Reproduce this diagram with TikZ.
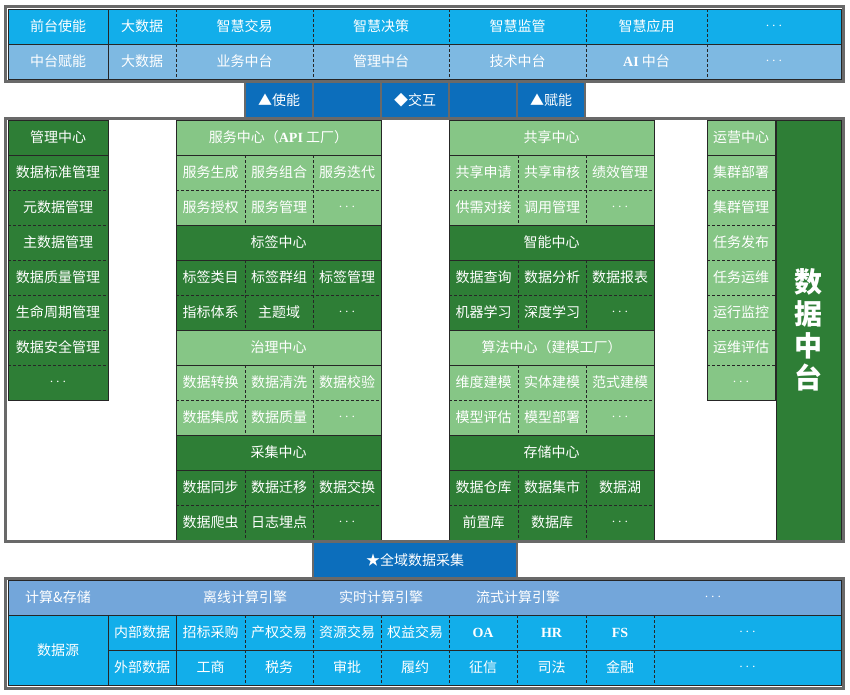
\documentclass[tikz,border=0pt]{standalone}
\usepackage{fontspec}
\setmainfont{Liberation Serif}
\newfontfamily\cjk{Noto Sans CJK SC}
\newfontfamily\lat{Liberation Serif}
\definecolor{cyanA}{RGB}{18,174,234}
\definecolor{blueB}{RGB}{126,185,226}
\definecolor{blueC}{RGB}{12,110,188}
\definecolor{blueD}{RGB}{115,166,218}
\definecolor{gD}{RGB}{46,126,54}
\definecolor{gL}{RGB}{134,198,134}
\definecolor{frameG}{RGB}{105,105,105}
\newcommand\dd{$\cdots$}
\newcommand\ab{\lat\bfseries}
\newcommand\irow[7]{%
  \node[cell, fill=#4, minimum width=69pt, minimum height=35pt] (#1a) at (#2,#3) {#5};
  \node[cell, fill=#4, minimum width=68pt, minimum height=35pt] (#1b) at (#2+69,#3) {#6};
  \node[cell, fill=#4, minimum width=68pt, minimum height=35pt] (#1c) at (#2+137,#3) {#7};}
\newcommand\iblock[2]{%
  \draw[sep] (#1a.north east) -- (#2a.south east);
  \draw[sep] (#1b.north east) -- (#2b.south east);
  \draw[sep] (#1a.south west) -- (#1c.south east);
  \draw[box] (#1a.north west) rectangle (#2c.south east);}
\newcommand\shead[5]{%
  \node[cell, fill=#4, box, minimum width=205pt, minimum height=35pt] (#1) at (#2,#3) {#5};}
\begin{document}
\begin{tikzpicture}[x=1pt,y=-1pt,
  cell/.style={anchor=north west, inner sep=0pt, outer sep=0pt, text=white,
    font=\cjk\fontsize{14}{16}\selectfont, align=center},
  box/.style={draw=black!85, line width=0.8pt},
  sep/.style={draw=black!85, line width=0.7pt, dash pattern=on 3pt off 2pt},
  frame/.style={draw=frameG, line width=3pt},
  lbl/.style={inner sep=0pt, text=white, font=\cjk\fontsize{14}{16}\selectfont}]
\useasboundingbox (0,0) rectangle (850,694);
\fill[white] (0,0) rectangle (850,694);

% ---------- top frame ----------
\foreach \n/\x/\w/\t in {t1/8/100/前台使能, t2/108/68/大数据, t3/176/137/智慧交易,
  t4/313/136/智慧决策, t5/449/137/智慧监管, t6/586/121/智慧应用, t7/707/134/\dd}
  \node[cell, fill=cyanA, minimum width=\w pt, minimum height=35pt] (\n) at (\x,9) {\t};
\foreach \n/\x/\w/\t in {m1/8/100/中台赋能, m2/108/68/大数据, m3/176/137/业务中台,
  m4/313/136/管理中台, m5/449/137/技术中台, m6/586/121/{{\ab AI}~中台}, m7/707/134/\dd}
  \node[cell, fill=blueB, minimum width=\w pt, minimum height=35pt] (\n) at (\x,44) {\t};
\foreach \i in {2,...,6} \draw[sep] (t\i.north east) -- (m\i.south east);
\draw[box] (t1.north east) -- (m1.south east);
\draw[box] (t1.south west) -- (t7.south east);
\draw[box] (t1.north west) rectangle (m7.south east);
\draw[frame] (5.5,6.5) rectangle (843.5,81.5);

% ---------- middle bar ----------
\foreach \n/\x/\t in {b1/245/▲使能, b2/313/{}, b3/381/◆交互, b4/449/{}, b5/517/▲赋能}
  \node[cell, fill=blueC, draw=frameG, line width=1.2pt, minimum width=68pt, minimum height=36pt] (\n) at (\x,82) {\t};

% ---------- left column ----------
\node[cell, fill=gD, box, minimum width=100pt, minimum height=35pt] (lh) at (8,120) {管理中心};
\foreach \i/\t in {1/数据标准管理, 2/元数据管理, 3/主数据管理, 4/数据质量管理, 5/生命周期管理, 6/数据安全管理, 7/\dd}
  \node[cell, fill=gD, minimum width=100pt, minimum height=35pt] (l\i) at (8,120+35*\i) {\t};
\foreach \i in {1,...,6} \draw[sep] (l\i.south west) -- (l\i.south east);
\draw[box] (l1.north west) rectangle (l7.south east);

% ---------- right column ----------
\node[cell, fill=gL, box, minimum width=68pt, minimum height=35pt] (rh) at (707,120) {运营中心};
\foreach \i/\t in {1/集群部署, 2/集群管理, 3/任务发布, 4/任务运维, 5/运行监控, 6/运维评估, 7/\dd}
  \node[cell, fill=gL, minimum width=68pt, minimum height=35pt] (o\i) at (707,120+35*\i) {\t};
\foreach \i in {1,...,6} \draw[sep] (o\i.south west) -- (o\i.south east);
\draw[box] (o1.north west) rectangle (o7.south east);

\node[cell, fill=gD, box, minimum width=65pt, minimum height=420pt,
  font=\cjk\bfseries\fontsize{28}{32}\selectfont] (big) at (776,120) {数\\据\\中\\台};

% ---------- middle column A ----------
\shead{ah1}{176}{120}{gL}{服务中心（{\ab API}~工厂）}
\irow{a11}{176}{155}{gL}{服务生成}{服务组合}{服务迭代}
\irow{a12}{176}{190}{gL}{服务授权}{服务管理}{\dd}
\iblock{a11}{a12}
\shead{ah2}{176}{225}{gD}{标签中心}
\irow{a21}{176}{260}{gD}{标签类目}{标签群组}{标签管理}
\irow{a22}{176}{295}{gD}{指标体系}{主题域}{\dd}
\iblock{a21}{a22}
\shead{ah3}{176}{330}{gL}{治理中心}
\irow{a31}{176}{365}{gL}{数据转换}{数据清洗}{数据校验}
\irow{a32}{176}{400}{gL}{数据集成}{数据质量}{\dd}
\iblock{a31}{a32}
\shead{ah4}{176}{435}{gD}{采集中心}
\irow{a41}{176}{470}{gD}{数据同步}{数据迁移}{数据交换}
\irow{a42}{176}{505}{gD}{数据爬虫}{日志埋点}{\dd}
\iblock{a41}{a42}

% ---------- middle column B ----------
\shead{bh1}{449}{120}{gL}{共享中心}
\irow{b11}{449}{155}{gL}{共享申请}{共享审核}{绩效管理}
\irow{b12}{449}{190}{gL}{供需对接}{调用管理}{\dd}
\iblock{b11}{b12}
\shead{bh2}{449}{225}{gD}{智能中心}
\irow{b21}{449}{260}{gD}{数据查询}{数据分析}{数据报表}
\irow{b22}{449}{295}{gD}{机器学习}{深度学习}{\dd}
\iblock{b21}{b22}
\shead{bh3}{449}{330}{gL}{算法中心（建模工厂）}
\irow{b31}{449}{365}{gL}{维度建模}{实体建模}{范式建模}
\irow{b32}{449}{400}{gL}{模型评估}{模型部署}{\dd}
\iblock{b31}{b32}
\shead{bh4}{449}{435}{gD}{存储中心}
\irow{b41}{449}{470}{gD}{数据仓库}{数据集市}{数据湖}
\irow{b42}{449}{505}{gD}{前置库}{数据库}{\dd}
\iblock{b41}{b42}

\draw[frame] (5.5,118.5) rectangle (843.5,541.5);

% ---------- bottom bar ----------
\node[cell, fill=blueC, draw=frameG, line width=1.2pt, minimum width=204pt, minimum height=36pt] (cj) at (313,542) {★全域数据采集};

% ---------- bottom frame ----------
\node[cell, fill=blueD, minimum width=833pt, minimum height=35pt] (cs) at (8,580) {};
\node[lbl] (cs1) at (58,597.5) {计算\&存储};
\node[lbl] (cs2) at (245,597.5) {离线计算引擎};
\node[lbl] (cs3) at (381,597.5) {实时计算引擎};
\node[lbl] (cs4) at (518,597.5) {流式计算引擎};
\node[lbl] (cs5) at (713,597.5) {\dd};
\node[cell, fill=cyanA, minimum width=100pt, minimum height=70pt] (ds) at (8,615) {数据源};
\node[cell, fill=cyanA, minimum width=68pt, minimum height=35pt] (nb) at (108,615) {内部数据};
\node[cell, fill=cyanA, minimum width=68pt, minimum height=35pt] (wb) at (108,650) {外部数据};
\foreach \i/\x/\w/\a/\b in {1/176/69/招标采购/工商, 2/245/68/产权交易/税务, 3/313/68/资源交易/审批,
  4/381/68/权益交易/履约, 5/449/68/{{\ab OA}}/征信, 6/517/69/{{\ab HR}}/司法, 7/586/68/{{\ab FS}}/金融, 8/654/187/\dd/\dd}{
  \node[cell, fill=cyanA, minimum width=\w pt, minimum height=35pt] (r\i) at (\x,615) {\a};
  \node[cell, fill=cyanA, minimum width=\w pt, minimum height=35pt] (s\i) at (\x,650) {\b};
}
\foreach \i in {1,...,7} \draw[sep] (r\i.north east) -- (s\i.south east);
\draw[box] (nb.south west) -- (s8.south east |- nb.south west);
\draw[box] (ds.north east) -- (ds.south east);
\draw[box] (nb.north east) -- (wb.south east);
\draw[box] (cs.south west) -- (cs.south east);
\draw[box] (cs.north west) rectangle (s8.south east);
\draw[frame] (5.5,578.5) rectangle (843.5,688.5);
\end{tikzpicture}
\end{document}
